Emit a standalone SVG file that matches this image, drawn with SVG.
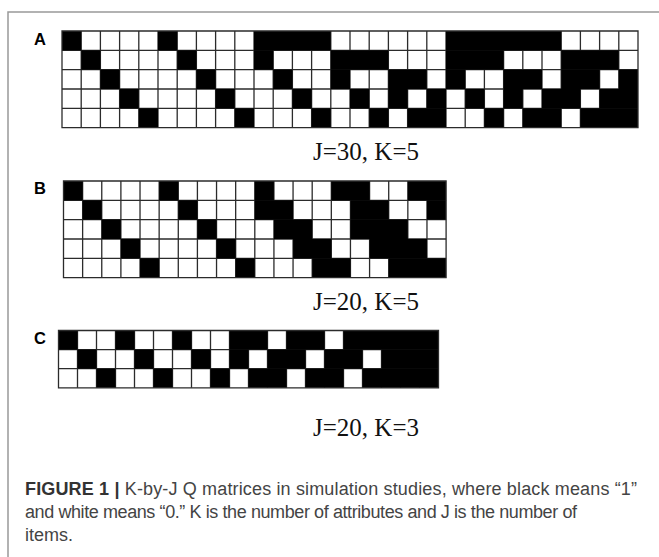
<svg xmlns="http://www.w3.org/2000/svg" width="659" height="557" viewBox="0 0 659 557">
<style>
.bg{fill:#fff}
.grid{fill:none;stroke:#2b2b2b;stroke-width:1.3;vector-effect:non-scaling-stroke}
.blk rect{fill:#000}
.lab{font-family:"Liberation Sans",Arial,sans-serif;font-weight:bold;font-size:16.5px;fill:#000}
.jk{font-family:"Liberation Serif","Times New Roman",serif;font-size:25px;fill:#111}
.cap{font-family:"Liberation Sans",Arial,sans-serif;font-size:18px;fill:#444}
.frame{fill:none;stroke:#999;stroke-width:1.5}
</style>
<rect width="659" height="557" fill="#fff"/>
<path class="frame" d="M8 557V12H659"/>

<g id="panelA">
<text class="lab" x="34" y="45">A</text>
<g id="matrixA" transform="translate(62,31) scale(19.2,19.33)">
<rect class="bg" width="30" height="5"/>
<path class="grid" d="M1 0V5M2 0V5M3 0V5M4 0V5M5 0V5M6 0V5M7 0V5M8 0V5M9 0V5M10 0V5M11 0V5M12 0V5M13 0V5M14 0V5M15 0V5M16 0V5M17 0V5M18 0V5M19 0V5M20 0V5M21 0V5M22 0V5M23 0V5M24 0V5M25 0V5M26 0V5M27 0V5M28 0V5M29 0V5M0 1H30M0 2H30M0 3H30M0 4H30"/>
<g class="blk">
<rect x="0" y="0" width="1" height="1"/><rect x="5" y="0" width="1" height="1"/><rect x="10" y="0" width="4" height="1"/><rect x="20" y="0" width="6" height="1"/>
<rect x="1" y="1" width="1" height="1"/><rect x="6" y="1" width="1" height="1"/><rect x="10" y="1" width="1" height="1"/><rect x="14" y="1" width="3" height="1"/><rect x="20" y="1" width="3" height="1"/><rect x="26" y="1" width="3" height="1"/>
<rect x="2" y="2" width="1" height="1"/><rect x="7" y="2" width="1" height="1"/><rect x="11" y="2" width="1" height="1"/><rect x="14" y="2" width="1" height="1"/><rect x="17" y="2" width="2" height="1"/><rect x="20" y="2" width="1" height="1"/><rect x="23" y="2" width="2" height="1"/><rect x="26" y="2" width="2" height="1"/><rect x="29" y="2" width="1" height="1"/>
<rect x="3" y="3" width="1" height="1"/><rect x="8" y="3" width="1" height="1"/><rect x="12" y="3" width="1" height="1"/><rect x="15" y="3" width="1" height="1"/><rect x="17" y="3" width="1" height="1"/><rect x="19" y="3" width="1" height="1"/><rect x="21" y="3" width="1" height="1"/><rect x="23" y="3" width="1" height="1"/><rect x="25" y="3" width="2" height="1"/><rect x="28" y="3" width="2" height="1"/>
<rect x="4" y="4" width="1" height="1"/><rect x="9" y="4" width="1" height="1"/><rect x="13" y="4" width="1" height="1"/><rect x="16" y="4" width="1" height="1"/><rect x="18" y="4" width="2" height="1"/><rect x="22" y="4" width="1" height="1"/><rect x="24" y="4" width="2" height="1"/><rect x="27" y="4" width="3" height="1"/>
</g>
<rect class="grid" width="30" height="5"/>
</g>
<text class="jk" x="313" y="160">J=30, K=5</text>
</g>

<g id="panelB">
<text class="lab" x="34" y="194">B</text>
<g id="matrixB" transform="translate(63.5,181) scale(19.13,19.33)">
<rect class="bg" width="20" height="5"/>
<path class="grid" d="M1 0V5M2 0V5M3 0V5M4 0V5M5 0V5M6 0V5M7 0V5M8 0V5M9 0V5M10 0V5M11 0V5M12 0V5M13 0V5M14 0V5M15 0V5M16 0V5M17 0V5M18 0V5M19 0V5M0 1H20M0 2H20M0 3H20M0 4H20"/>
<g class="blk">
<rect x="0" y="0" width="1" height="1"/><rect x="5" y="0" width="1" height="1"/><rect x="10" y="0" width="1" height="1"/><rect x="14" y="0" width="2" height="1"/><rect x="18" y="0" width="2" height="1"/>
<rect x="1" y="1" width="1" height="1"/><rect x="6" y="1" width="1" height="1"/><rect x="10" y="1" width="2" height="1"/><rect x="15" y="1" width="2" height="1"/><rect x="19" y="1" width="1" height="1"/>
<rect x="2" y="2" width="1" height="1"/><rect x="7" y="2" width="1" height="1"/><rect x="11" y="2" width="2" height="1"/><rect x="15" y="2" width="3" height="1"/>
<rect x="3" y="3" width="1" height="1"/><rect x="8" y="3" width="1" height="1"/><rect x="12" y="3" width="2" height="1"/><rect x="16" y="3" width="3" height="1"/>
<rect x="4" y="4" width="1" height="1"/><rect x="9" y="4" width="1" height="1"/><rect x="13" y="4" width="2" height="1"/><rect x="17" y="4" width="3" height="1"/>
</g>
<rect class="grid" width="20" height="5"/>
</g>
<text class="jk" x="313" y="310">J=20, K=5</text>
</g>

<g id="panelC">
<text class="lab" x="34" y="344">C</text>
<g id="matrixC" transform="translate(58.5,330.5) scale(19,19.1)">
<rect class="bg" width="20" height="3"/>
<path class="grid" d="M1 0V3M2 0V3M3 0V3M4 0V3M5 0V3M6 0V3M7 0V3M8 0V3M9 0V3M10 0V3M11 0V3M12 0V3M13 0V3M14 0V3M15 0V3M16 0V3M17 0V3M18 0V3M19 0V3M0 1H20M0 2H20"/>
<g class="blk">
<rect x="0" y="0" width="1" height="1"/><rect x="3" y="0" width="1" height="1"/><rect x="6" y="0" width="1" height="1"/><rect x="9" y="0" width="2" height="1"/><rect x="12" y="0" width="2" height="1"/><rect x="15" y="0" width="5" height="1"/>
<rect x="1" y="1" width="1" height="1"/><rect x="4" y="1" width="1" height="1"/><rect x="7" y="1" width="1" height="1"/><rect x="9" y="1" width="1" height="1"/><rect x="11" y="1" width="2" height="1"/><rect x="14" y="1" width="2" height="1"/><rect x="17" y="1" width="3" height="1"/>
<rect x="2" y="2" width="1" height="1"/><rect x="5" y="2" width="1" height="1"/><rect x="8" y="2" width="1" height="1"/><rect x="10" y="2" width="2" height="1"/><rect x="13" y="2" width="2" height="1"/><rect x="16" y="2" width="4" height="1"/>
</g>
<rect class="grid" width="20" height="3"/>
</g>
<text class="jk" x="313" y="436">J=20, K=3</text>
</g>

<g id="caption">
<text class="cap" x="25" y="495" textLength="612" lengthAdjust="spacing"><tspan font-weight="bold" fill="#333">FIGURE 1 |</tspan> K-by-J Q matrices in simulation studies, where black means “1”</text>
<text class="cap" x="25" y="518" textLength="552" lengthAdjust="spacing">and white means “0.” K is the number of attributes and J is the number of</text>
<text class="cap" x="25" y="541">items.</text>
</g>
</svg>
